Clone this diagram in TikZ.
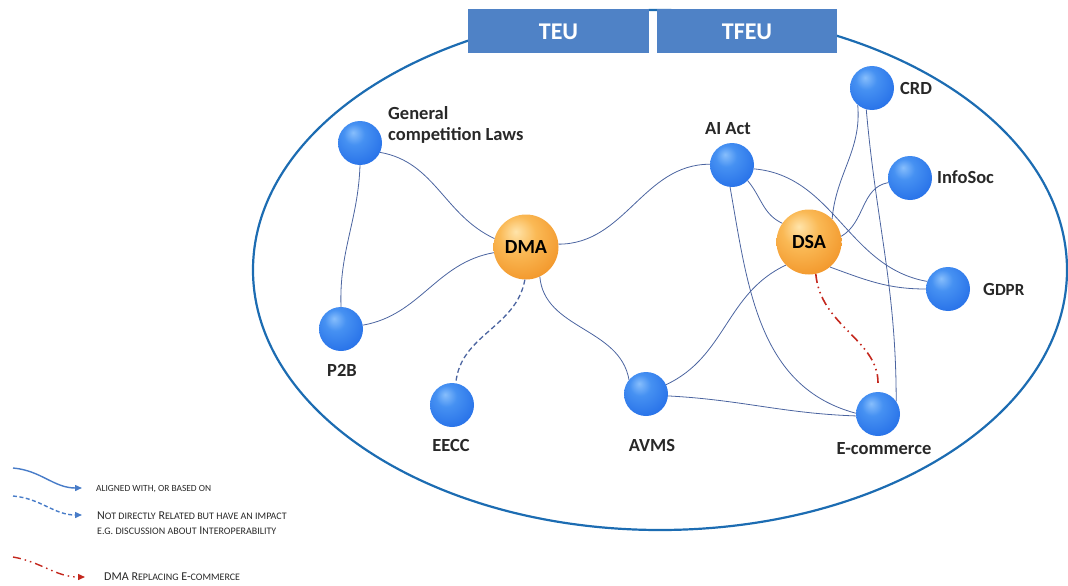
\documentclass[tikz,border=0pt]{standalone}
\usepackage{fontspec}
\setmainfont{Carlito}
\usetikzlibrary{arrows.meta}

\definecolor{rim}{RGB}{28,108,178}
\definecolor{boxblue}{RGB}{79,130,198}
\definecolor{wirecol}{RGB}{75,100,160}
\definecolor{legblue}{RGB}{72,124,200}
\definecolor{legred}{RGB}{196,40,30}
\definecolor{ink}{RGB}{40,40,40}
\definecolor{bhi}{RGB}{135,190,252}
\definecolor{bmid}{RGB}{70,145,242}
\definecolor{bbase}{RGB}{38,112,232}
\definecolor{blo}{RGB}{25,78,200}
\definecolor{ohi}{RGB}{255,228,170}
\definecolor{omid}{RGB}{250,185,85}
\definecolor{obase}{RGB}{242,150,42}
\definecolor{olo}{RGB}{215,110,20}

\pgfdeclareradialshading{blueball}{\pgfqpoint{-8bp}{12bp}}{color(0bp)=(bhi); color(12bp)=(bmid); color(34bp)=(bbase); color(52bp)=(blo); color(70bp)=(blo)}
\pgfdeclareradialshading{orangeball}{\pgfqpoint{-8bp}{12bp}}{color(0bp)=(ohi); color(14bp)=(omid); color(34bp)=(obase); color(52bp)=(olo); color(70bp)=(olo)}

\newcommand{\lsc}[1]{{\fontsize{10}{12}\selectfont #1}}

\begin{document}
\begin{tikzpicture}
  [x=1pt,y=1pt,
   ball/.style={circle,minimum size=44pt,inner sep=0pt,shading=blueball},
   hub/.style={circle,minimum size=65pt,inner sep=0pt,shading=orangeball,
     font=\fontsize{20}{24}\selectfont\bfseries,text=black},
   lbl/.style={font=\fontsize{18.5}{21}\selectfont\bfseries,text=ink,inner sep=0pt},
   treaty/.style={fill=boxblue,minimum height=44pt,inner sep=0pt,
     font=\fontsize{24}{28}\selectfont\bfseries,text=white},
   wire/.style={draw=wirecol,line width=0.8pt},
   legtext/.style={font=\fontsize{12}{14}\selectfont,text=ink,anchor=west,inner sep=0pt}]
  \useasboundingbox (0,0) rectangle (1068,-586);

  % the frame and the two treaties
  \draw[rim,line width=2.2pt] (660,-270) ellipse [x radius=407,y radius=260];
  \node[treaty,minimum width=181pt] (teu) at (558.5,-31.5) {TEU};
  \node[treaty,minimum width=180pt] (tfeu) at (747,-31.5) {TFEU};

  % acts
  \node[ball] (gcl) at (360,-143) {};
  \node[hub] (dma) at (526,-247) {DMA};
  \node[ball] (p2b) at (341,-329) {};
  \node[ball] (eecc) at (452,-405) {};
  \node[ball] (avms) at (646,-394) {};
  \node[ball] (ai) at (732,-165) {};
  \node[hub] (dsa) at (809,-242) {DSA};
  \node[ball] (crd) at (872,-88) {};
  \node[ball] (infosoc) at (910,-178) {};
  \node[ball] (gdpr) at (948,-289) {};
  \node[ball] (ecom) at (878,-414) {};

  \node[lbl,anchor=north west,align=left] (gcl-l) at (388,-106) {General\\competition Laws};
  \node[lbl] (p2b-l) at (342,-370) {P2B};
  \node[lbl] (eecc-l) at (451,-445) {EECC};
  \node[lbl] (avms-l) at (652,-445) {AVMS};
  \node[lbl] (ai-l) at (728,-129) {AI Act};
  \node[lbl,anchor=west] (crd-l) at (900,-88) {CRD};
  \node[lbl,anchor=west] (infosoc-l) at (937,-177) {InfoSoc};
  \node[lbl,anchor=west] (gdpr-l) at (983,-289) {G{\fontsize{17}{20}\selectfont DPR}};
  \node[lbl] (ecom-l) at (884,-449) {E-commerce};

  % links
  \foreach \from/\to/\o/\i in {gcl.-90/p2b.90/-92/92, gcl.-25/dma.165/-10/155,
      p2b.10/dma.190/10/190, dma.-65/avms.140/-85/100, dma.5/ai.178/0/180,
      ai.-45/dsa.145/-50/155, ai.-10/gdpr.160/-5/170, ai.-95/ecom.178/-80/165,
      dsa.225/avms.25/205/25, avms.-5/ecom.185/-3/178, dsa.-50/gdpr.180/-20/180,
      dsa.10/infosoc.192/30/190, dsa.45/crd.-130/85/-85, crd.-105/ecom.35/-85/90}
    \draw[wire] (\from) to[out=\o,in=\i] (\to);
  \draw[wire,line width=1.3pt,dash pattern=on 5pt off 3pt] (dma.-92) to[out=-100,in=85] (eecc.80);
  \draw[legred,line width=1.6pt,dash pattern=on 9pt off 4pt on 1.5pt off 4pt on 1.5pt off 4pt,
    shorten >=9pt] (dsa.-78) to[out=-85,in=90] (ecom.north);

  % legend
  \coordinate (s1) at (13,-468);
  \coordinate (t1) at (82,-488);
  \coordinate (s2) at (13,-496);
  \coordinate (t2) at (82,-515);
  \coordinate (s3) at (13,-557);
  \coordinate (t3) at (85,-577);
  \draw[legblue,line width=1.4pt,-{Triangle[length=7pt,width=6pt]}] (s1) to[out=-5,in=180] (t1);
  \draw[legblue,line width=1.4pt,dash pattern=on 4pt off 2.5pt,-{Triangle[length=7pt,width=6pt]}]
    (s2) to[out=-5,in=180] (t2);
  \draw[legred,line width=1.4pt,dash pattern=on 8pt off 4pt on 1.5pt off 4pt on 1.5pt off 4pt,
    -{Triangle[length=7pt,width=6pt]}] (s3) to[out=-10,in=180] (t3);
  \node[legtext] (leg1) at (96,-489) {{\fontsize{9.4}{11}\selectfont ALIGNED WITH, OR BASED ON}};
  \node[legtext] (leg2) at (97,-516) {N\lsc{OT DIRECTLY} R\lsc{ELATED BUT HAVE AN IMPACT}};
  \node[legtext] (leg3) at (97,-531) {\lsc{E.G. DISCUSSION ABOUT} I\lsc{NTEROPERABILITY}};
  \node[legtext] (leg4) at (104,-577) {DMA R\lsc{EPLACING} E-\lsc{COMMERCE}};
\end{tikzpicture}
\end{document}
